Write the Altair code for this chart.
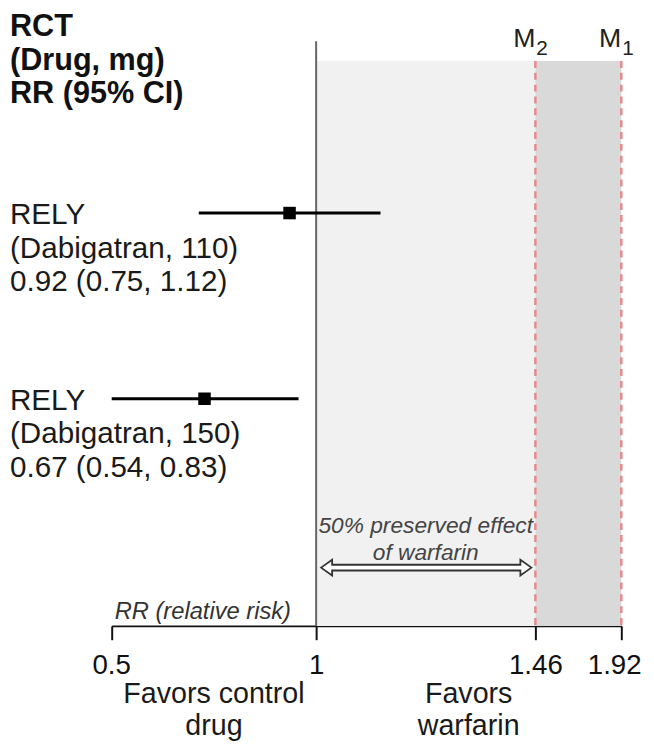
import altair as alt
import pandas as pd

FONT = "Liberation Sans"

# ---------------- data ----------------
studies = ["RELY", "RELY"]
drugs = ["(Dabigatran, 110)", "(Dabigatran, 150)"]
rr_text = ["0.92 (0.75, 1.12)", "0.67 (0.54, 0.83)"]
rows = [1, 2]
# square and CI ends as drawn against the (schematic) RR axis
rr_drawn = [0.935, 0.727]
lo_drawn = [0.713, 0.500]
hi_drawn = [1.135, 0.957]

axis_ticks = [0.5, 1, 1.46, 1.92]
null_value = [1]
margin_values = [1.46, 1.92]          # M2, M1
margin_subs = ["2", "1"]
zone_start = [1, 1.46]
zone_end = [1.46, 1.92]
zone_names = ["preserved", "margin"]

header_text = "RCT\n(Drug, mg)\nRR (95% CI)"
arrow_text = "50% preserved effect\nof warfarin"
axis_note = "RR (relative risk)"
favors_text = ["Favors control\ndrug", "Favors\nwarfarin"]
favors_at = [0.75, 1.32]

# ---------------- tables ----------------
studies_df = pd.DataFrame({"study": studies, "drug": drugs, "ci": rr_text, "row": rows,
                           "rr": rr_drawn, "lo": lo_drawn, "hi": hi_drawn})
zones_df = pd.DataFrame({"x0": zone_start, "x1": zone_end, "zone": zone_names})
null_df = pd.DataFrame({"x": null_value})
marg_df = pd.DataFrame({"x": margin_values, "sub": margin_subs, "m": ["M", "M"]})
arrow_df = pd.DataFrame({"x0": [null_value[0]], "x1": [margin_values[0]],
                         "mid": [(null_value[0] + margin_values[0]) / 2], "t": [arrow_text]})
favors_df = pd.DataFrame({"x": favors_at, "t": favors_text})
note_df = pd.DataFrame({"x": [axis_ticks[0]], "t": [axis_note]})
header_df = pd.DataFrame({"t": [header_text]})

xs = alt.Scale(domain=axis_ticks, range=[105, 312, 534, 621], zero=False, nice=False)
ys = alt.Scale(domain=[1, 2], range=[154, 342], zero=False, nice=False)
xax = alt.Axis(values=axis_ticks, title=None, grid=False, labelExpr="'' + datum.value",
               labelFont=FONT, labelFontSize=28, labelColor="#111", labelPadding=12,
               labelFlush=True, labelFlushOffset=20, labelOverlap=False,
               tickSize=14, tickWidth=2, tickColor="#111", domainColor="#111", domainWidth=2)


def X(field):
    return alt.X(field, type="quantitative", scale=xs, axis=xax)


bands = alt.Chart(zones_df).mark_rect().encode(
    x=X("x0"), x2="x1",
    color=alt.Color("zone:N", scale=alt.Scale(domain=zone_names, range=["#f1f1f1", "#d9d9d9"]), legend=None),
)

null_rule = alt.Chart(null_df).mark_rule(color="#666", strokeWidth=2).encode(
    x=X("x"), y=alt.value(-20), y2=alt.value("height"))

marg_rules = alt.Chart(marg_df).mark_rule(color="#e58a8a", strokeWidth=2.5, strokeDash=[7, 5]).encode(
    x=X("x"))

m_text = alt.Chart(marg_df).mark_text(align="right", baseline="alphabetic", font=FONT,
                                      fontSize=27, color="#222").encode(
    x=X("x"), y=alt.value(-14), text="m:N")
m_sub = alt.Chart(marg_df).mark_text(align="left", baseline="alphabetic", font=FONT,
                                     fontSize=21, color="#222", dx=1).encode(
    x=X("x"), y=alt.value(-6), text="sub:N")

ci = alt.Chart(studies_df).mark_rule(color="black", strokeWidth=3).encode(
    x=X("lo"), x2="hi", y=alt.Y("row:Q", scale=ys, axis=None))
sq = alt.Chart(studies_df).mark_point(shape="square", filled=True, size=160, color="black", opacity=1).encode(
    x=X("rr"), y=alt.Y("row:Q", scale=ys, axis=None))

label_layers = []
for field, off in [("study", 2), ("drug", 36), ("ci", 70)]:
    label_layers.append(
        alt.Chart(studies_df).mark_text(align="left", baseline="middle", font=FONT, fontSize=30,
                                        color="#1a1a1a", dy=off).encode(
            x=alt.value(2), y=alt.Y("row:Q", scale=ys, axis=None), text=f"{field}:N"))

header = alt.Chart(header_df).mark_text(align="left", baseline="top", font=FONT, fontSize=31,
                                        fontWeight="bold", color="#111", lineBreak="\n",
                                        lineHeight=34).encode(
    x=alt.value(2), y=alt.value(-49), text="t:N")

ARROW_Y = 513
shaft_dark = alt.Chart(arrow_df).mark_rule(color="#333", strokeWidth=8, xOffset=11, x2Offset=-10).encode(
    x=X("x0"), x2="x1", y=alt.value(ARROW_Y))
head_l = alt.Chart(arrow_df).mark_point(shape="M0,0L1.4,-1L1.4,1Z", size=256, filled=True, fill="white",
                                        stroke="#333", strokeWidth=1.8, opacity=1, xOffset=5).encode(
    x=X("x0"), y=alt.value(ARROW_Y))
head_r = alt.Chart(arrow_df).mark_point(shape="M0,0L-1.4,-1L-1.4,1Z", size=256, filled=True, fill="white",
                                        stroke="#333", strokeWidth=1.8, opacity=1, xOffset=-4).encode(
    x=X("x1"), y=alt.value(ARROW_Y))
shaft_white = alt.Chart(arrow_df).mark_rule(color="white", strokeWidth=4, xOffset=14, x2Offset=-13).encode(
    x=X("x0"), x2="x1", y=alt.value(ARROW_Y))
arrow_lbl = alt.Chart(arrow_df).mark_text(align="center", baseline="top", font=FONT, fontSize=23,
                                          fontStyle="italic", color="#444", lineBreak="\n",
                                          lineHeight=27).encode(
    x=X("mid"), y=alt.value(460), text="t:N")

note = alt.Chart(note_df).mark_text(align="left", baseline="middle", font=FONT, fontSize=24,
                                    fontStyle="italic", color="#333", dx=3).encode(
    x=X("x"), y=alt.value(558), text="t:N")

favors = alt.Chart(favors_df).mark_text(align="center", baseline="top", font=FONT, fontSize=29,
                                        color="#1a1a1a", lineBreak="\n", lineHeight=32).encode(
    x=X("x"), y=alt.value(627), text="t:N")

chart = alt.layer(
    bands, null_rule, marg_rules, m_text, m_sub, ci, sq, *label_layers, header,
    shaft_dark, head_l, head_r, shaft_white, arrow_lbl, note, favors,
).properties(
    width=630, height=572,
    autosize=alt.AutoSizeParams(type="none"),
    padding={"left": 0, "top": 49, "right": 16, "bottom": 118},
).configure_view(stroke=None)

chart.save("out.html", embed_options={"renderer": "svg", "actions": False})
